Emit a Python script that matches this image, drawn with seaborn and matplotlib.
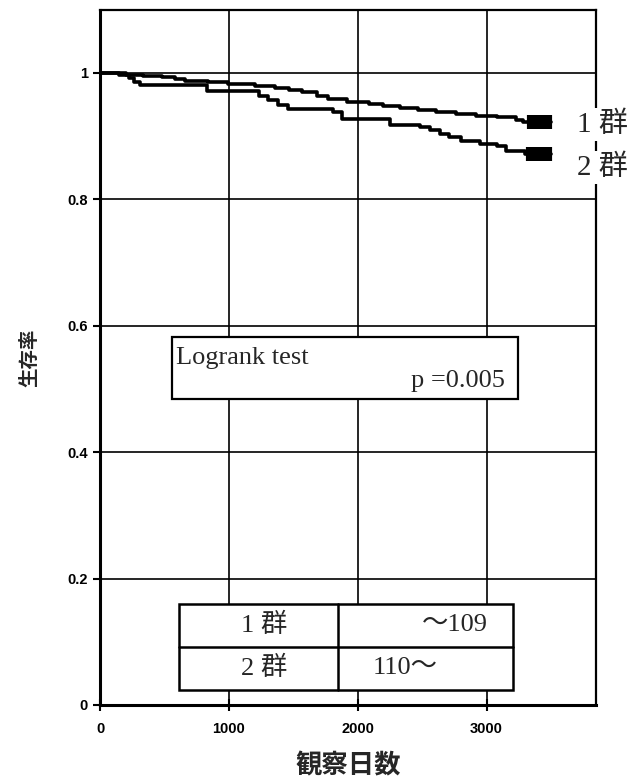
import numpy as np
import pandas as pd
import matplotlib
matplotlib.use("Agg")
import matplotlib.pyplot as plt
import seaborn as sns
from matplotlib.patches import Rectangle

# Kaplan-Meier steps (day, survival)
g1_days = [0, 200, 330, 480, 580, 660, 840, 990, 1200, 1360, 1470, 1570,
           1680, 1770, 1920, 2090, 2200, 2330, 2470, 2610, 2760, 2920, 3080,
           3230, 3280, 3500]
g1_surv = [1.0, 0.997, 0.996, 0.994, 0.991, 0.988, 0.985, 0.983, 0.980,
           0.976, 0.973, 0.970, 0.964, 0.959, 0.954, 0.951, 0.948, 0.944,
           0.941, 0.938, 0.935, 0.932, 0.930, 0.925, 0.922, 0.922]
g2_days = [0, 150, 220, 260, 310, 830, 990, 1230, 1300, 1380, 1460, 1810,
           1880, 2250, 2480, 2560, 2640, 2710, 2800, 2950, 3080, 3150, 3300,
           3500]
g2_surv = [1.0, 0.997, 0.992, 0.986, 0.981, 0.972, 0.971, 0.964, 0.958,
           0.950, 0.943, 0.938, 0.927, 0.918, 0.914, 0.909, 0.903, 0.899,
           0.893, 0.888, 0.885, 0.877, 0.872, 0.872]
# censored observations at the end of follow-up
g1_cens = [3330, 3350, 3370, 3390, 3410, 3430, 3450, 3470, 3490]
g2_cens = [3320, 3350, 3370, 3390, 3410, 3430, 3450, 3470, 3490]

group_labels = ["1 群", "2 群"]
table_rows = [["1 群", "～109"], ["2 群", "110～"]]
x_ticks = [0, 1000, 2000, 3000]
y_ticks = [0, 0.2, 0.4, 0.6, 0.8, 1.0]

df = pd.concat([
    pd.DataFrame({"day": g1_days, "surv": g1_surv, "group": "1"}),
    pd.DataFrame({"day": g2_days, "surv": g2_surv, "group": "2"})])

last1 = g1_surv[-1]
last2 = g2_surv[-1]
cens = pd.concat([
    pd.DataFrame({"day": g1_cens, "surv": [last1] * len(g1_cens), "group": "1"}),
    pd.DataFrame({"day": g2_cens, "surv": [last2] * len(g2_cens), "group": "2"})])

sns.set_theme(style="white")
plt.rcParams["font.family"] = ["Liberation Sans", "Noto Sans CJK JP"]
serif = ["Liberation Serif", "Noto Sans CJK JP"]

fig = plt.figure(figsize=(6.34, 7.82), dpi=100)
ax = fig.add_axes([0.158, 0.0985, 0.782, 0.889])

sns.lineplot(data=df, x="day", y="surv", hue="group", palette=["black", "black"],
             drawstyle="steps-post", linewidth=2.6, legend=False, ax=ax,
             estimator=None, sort=False)
sns.scatterplot(data=cens, x="day", y="surv", hue="group",
                palette=["black", "black"], marker="|", s=100, linewidth=3,
                legend=False, ax=ax, zorder=4)

ax.set_xlim(0, 3850)
ax.set_ylim(0, 1.1)
ax.set_xticks(x_ticks)
ax.set_yticks(y_ticks)
ax.set_xticklabels([str(t) for t in x_ticks], fontsize=10.5, fontweight="bold")
ax.set_yticklabels(["0", "0.2", "0.4", "0.6", "0.8", "1"], fontsize=10.5,
                   fontweight="bold")
ax.grid(True, color="black", linewidth=1.2)
for s in ax.spines.values():
    s.set_color("black")
    s.set_linewidth(1.6)
ax.spines["left"].set_linewidth(2.2)
ax.spines["bottom"].set_linewidth(2.2)
ax.tick_params(axis="y", direction="out", length=5, width=1.5, pad=4,
               left=True, colors="black")
ax.tick_params(axis="x", direction="inout", length=9, width=1.5, pad=8,
               bottom=True, colors="black")

ax.set_xlabel("観察日数", fontsize=19, fontweight="bold", labelpad=12)
ax.set_ylabel("生存率", fontsize=14, fontweight="bold", labelpad=20)

# group labels at right end of curves
for lab, yy in zip(group_labels, [0.835, 0.773]):
    ax.text(0.962, yy, lab, transform=ax.transAxes, fontsize=21,
            family=serif, va="center", ha="left", clip_on=False, zorder=6,
            bbox=dict(facecolor="white", edgecolor="none", pad=2))

# log-rank box
ax.add_patch(Rectangle((0.145, 0.440), 0.698, 0.089, transform=ax.transAxes,
                       facecolor="white", edgecolor="black", linewidth=1.6,
                       zorder=5))
ax.text(0.153, 0.499, "Logrank test", transform=ax.transAxes, fontsize=19,
        family=serif, va="center", ha="left", zorder=6)
ax.text(0.817, 0.466, "p =0.005", transform=ax.transAxes, fontsize=19,
        family=serif, va="center", ha="right", zorder=6)

# group definition table
tx0, tx1, tx2 = 0.159, 0.480, 0.833
ty0, ty1, ty2 = 0.0216, 0.0835, 0.145
ax.add_patch(Rectangle((tx0, ty0), tx2 - tx0, ty2 - ty0, transform=ax.transAxes,
                       facecolor="white", edgecolor="black", linewidth=1.8,
                       zorder=5))
ax.plot([tx1, tx1], [ty0, ty2], transform=ax.transAxes, color="black",
        linewidth=1.8, zorder=6)
ax.plot([tx0, tx2], [ty1, ty1], transform=ax.transAxes, color="black",
        linewidth=1.8, zorder=6)
row_y = [0.115, 0.053]
for (left, right), yy in zip(table_rows, row_y):
    ax.text(0.33, yy, left, transform=ax.transAxes, fontsize=19, family=serif,
            va="center", ha="center", zorder=7)
ax.text(0.782, row_y[0], table_rows[0][1], transform=ax.transAxes,
        fontsize=19, family=serif, va="center", ha="right", zorder=7)
ax.text(0.550, row_y[1], table_rows[1][1], transform=ax.transAxes,
        fontsize=19, family=serif, va="center", ha="left", zorder=7)

fig.savefig("out.png", dpi=100)
